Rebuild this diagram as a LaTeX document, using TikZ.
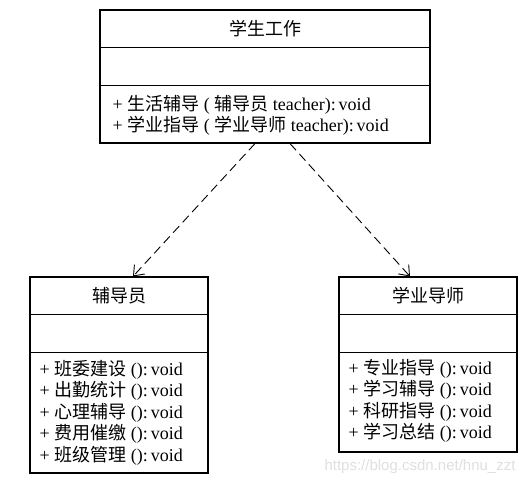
\documentclass[tikz,border=0pt]{standalone}
\usepackage{fontspec}
\setmainfont{Liberation Serif}
\newfontfamily\cjk{Noto Sans CJK SC}
\newfontfamily\wmfont{Liberation Sans}
\newcommand{\zh}[1]{{\cjk #1}}
\usepackage{tikz}
\usetikzlibrary{calc}
\usetikzlibrary{arrows.meta}

\tikzset{
  classbox/.style={draw, line width=1.1pt, inner sep=0pt},
  classname/.style={font=\fontsize{18}{21.5}\selectfont},
  methods/.style={anchor=west, align=left, inner sep=0pt, font=\fontsize{18}{21.5}\selectfont},
  depends/.style={line width=0.9pt, dash pattern=on 9pt off 5pt, -{Straight Barb[length=9pt,width=14pt]}}
}

\begin{document}
\begin{tikzpicture}[x=1pt,y=-1pt]

  \useasboundingbox (0,0) rectangle (528,486);

  \node[classbox, minimum width=330pt, minimum height=133pt] (work) at (265,76.5) {};
  \node[classbox, minimum width=178pt, minimum height=196pt] (counselor) at (119,375) {};
  \node[classbox, minimum width=178pt, minimum height=175pt] (advisor) at (428,364.5) {};

  % compartments
  \foreach \b in {work,counselor,advisor}
      \foreach \d in {38,76}
          \draw[line width=1.1pt] ($(\b.north west)+(0,\d)$) -- ($(\b.north east)+(0,\d)$);

  \node[classname] (work-name) at ($(work.north)+(0,19)$) {\zh{学生工作}};
  \node[methods] (work-ops) at ($(work.north west)+(13,106)$)
      {+ \zh{生活辅导} ( \zh{辅导员} teacher):\,void\\
       + \zh{学业指导} ( \zh{学业导师} teacher):\,void};

  \node[classname] (counselor-name) at ($(counselor.north)+(0,19)$) {\zh{辅导员}};
  \node[methods] (counselor-ops) at ($(counselor.north west)+(10,136)$)
      {+ \zh{班委建设} ():\,void\\
       + \zh{出勤统计} ():\,void\\
       + \zh{心理辅导} ():\,void\\
       + \zh{费用催缴} ():\,void\\
       + \zh{班级管理} ():\,void};

  \node[classname] (advisor-name) at ($(advisor.north)+(0,19)$) {\zh{学业导师}};
  \node[methods] (advisor-ops) at ($(advisor.north west)+(10,124.5)$)
      {+ \zh{专业指导} ():\,void\\
       + \zh{学习辅导} ():\,void\\
       + \zh{科研指导} ():\,void\\
       + \zh{学习总结} ():\,void};

  % dependencies
  \draw[depends] ($(work.south)+(-10,0)$) -- ($(counselor.north)+(14,0)$);
  \draw[depends] ($(work.south)+(25,0)$) -- ($(advisor.north)+(-18,0)$);

  \node[anchor=east, text=gray!25, font=\wmfont\fontsize{15}{18}\selectfont] (mark) at (519,467) {https://blog.csdn.net/hnu\_zzt};

\end{tikzpicture}
\end{document}
